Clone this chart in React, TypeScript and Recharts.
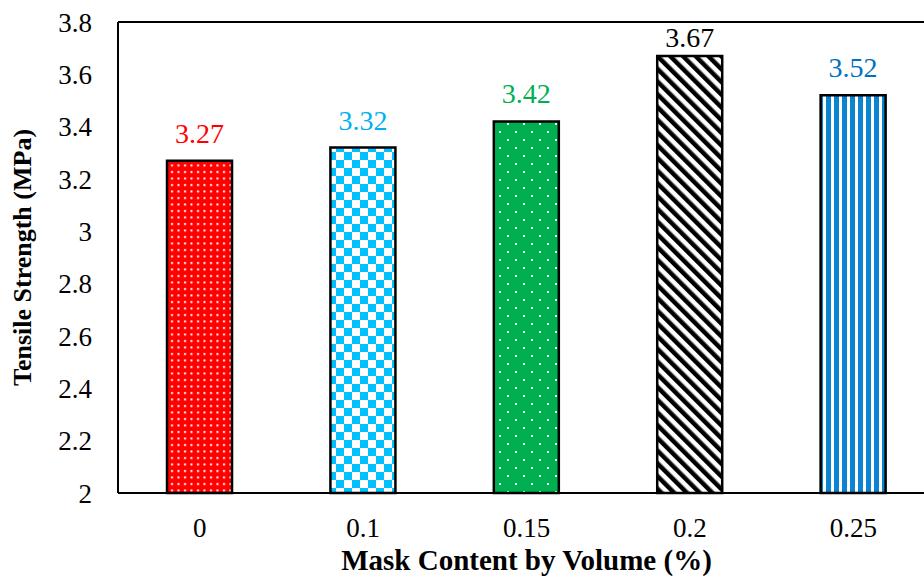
import React from 'react';
import { BarChart, Bar, XAxis, YAxis, Cell, LabelList, ReferenceLine } from 'recharts';

const categories = ['0', '0.1', '0.15', '0.2', '0.25'];
const values = [3.27, 3.32, 3.42, 3.67, 3.52];
const labelColors = ['#FF0000', '#00B0F0', '#00B050', '#000000', '#0070C0'];
const yTicks = [2, 2.2, 2.4, 2.6, 2.8, 3, 3.2, 3.4, 3.6, 3.8];

const data = categories.map((c, i) => ({ name: c, value: values[i] }));
const FONT = "'Liberation Serif', 'Times New Roman', Times, serif";

const BarLabel = (props: any) => {
  const { x, y, width, value, index } = props;
  const ty = Math.max(y - 18, 47);
  return (
    <text x={x + width / 2} y={ty} textAnchor="middle" fill={labelColors[index]} style={{ fontSize: 28, fontFamily: FONT }}>
      {value.toFixed(2)}
    </text>
  );
};

const YLabel = (props: any) => {
  const vb = props.viewBox;
  const cx = vb.x + 22;
  const cy = vb.y + vb.height / 2;
  return (
    <text x={cx} y={cy} transform={`rotate(-90, ${cx}, ${cy})`} textAnchor="middle" dominantBaseline="central" fill="#000" style={{ fontSize: 26, fontWeight: 'bold', fontFamily: FONT }}>
      Tensile Strength (MPa)
    </text>
  );
};

const XLabel = (props: any) => {
  const vb = props.viewBox;
  return (
    <text x={vb.x + vb.width / 2} y={vb.y + vb.height - 6} textAnchor="middle" fill="#000" style={{ fontSize: 29, fontWeight: 'bold', fontFamily: FONT }}>
      Mask Content by Volume (%)
    </text>
  );
};

export default function App() {
  return (
    <div style={{ position: 'absolute', left: 0, top: 0, width: 924, height: 576, overflow: 'hidden', background: '#fff', fontFamily: FONT }}>
      <BarChart width={935} height={576} data={data} margin={{ top: 22, right: 0, bottom: 0, left: 0 }} barCategoryGap="30%" style={{ fontFamily: FONT }}>
        <defs>
          <pattern id="pat0" width="6.5" height="6.5" patternUnits="userSpaceOnUse">
            <rect width="6.5" height="6.5" fill="#FF0000" />
            <rect x="2" y="2" width="2" height="2" fill="#fff" />
          </pattern>
          <pattern id="pat1" width="16" height="16" patternUnits="userSpaceOnUse">
            <rect width="16" height="16" fill="#fff" />
            <rect x="0" y="0" width="8" height="8" fill="#00C0FF" />
            <rect x="8" y="8" width="8" height="8" fill="#00C0FF" />
          </pattern>
          <pattern id="pat2" width="16" height="16" patternUnits="userSpaceOnUse">
            <rect width="16" height="16" fill="#00B050" />
            <rect x="3" y="3" width="2" height="2" fill="#fff" />
            <rect x="11" y="11" width="2" height="2" fill="#fff" />
          </pattern>
          <pattern id="pat3" width="9" height="9" patternUnits="userSpaceOnUse" patternTransform="rotate(-45)">
            <rect width="9" height="9" fill="#fff" />
            <rect x="0" y="0" width="4.5" height="9" fill="#000" />
          </pattern>
          <pattern id="pat4" width="8" height="8" patternUnits="userSpaceOnUse">
            <rect width="8" height="8" fill="#fff" />
            <rect x="2" y="0" width="5" height="8" fill="#0A84D0" />
          </pattern>
        </defs>
        <XAxis
          dataKey="name"
          height={83}
          tickLine={false}
          tickSize={0}
          tickMargin={25}
          axisLine={{ stroke: '#000', strokeWidth: 2 }}
          tick={{ fill: '#000', fontSize: 27, style: { fontFamily: FONT } }}
          label={<XLabel />}
        />
        <YAxis
          width={118}
          domain={[2, 3.8]}
          ticks={yTicks}
          interval={0}
          tickLine={false}
          tickSize={0}
          tickMargin={26}
          axisLine={{ stroke: '#000', strokeWidth: 2 }}
          tick={{ fill: '#000', fontSize: 27, style: { fontFamily: FONT } }}
          label={<YLabel />}
        />
        <ReferenceLine y={3.8} stroke="#000" strokeWidth={2} />
        <Bar dataKey="value" stroke="#000" strokeWidth={2.5} isAnimationActive={false}>
          {data.map((d, i) => (
            <Cell key={d.name} fill={`url(#pat${i})`} />
          ))}
          <LabelList dataKey="value" content={<BarLabel />} />
        </Bar>
      </BarChart>
    </div>
  );
}
